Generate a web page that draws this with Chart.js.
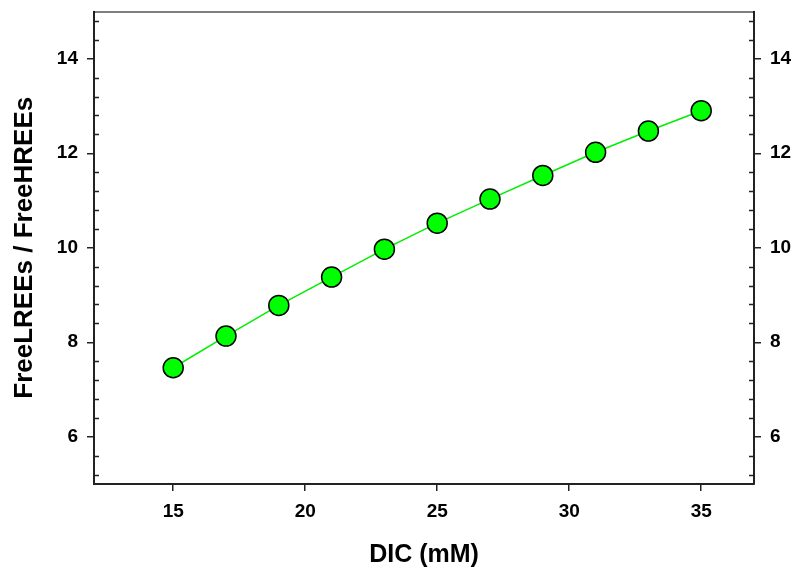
<!DOCTYPE html>
<html>
<head>
<meta charset="utf-8">
<script src="https://cdn.jsdelivr.net/npm/chart.js@4"></script>
<style>
  html, body { margin: 0; padding: 0; background: #fff; }
  #wrap { width: 803px; height: 570px; }
</style>
</head>
<body>
<div id="wrap"><canvas id="ratioChart"></canvas></div>
<script>
// data
const dic = [15, 17, 19, 21, 23, 25, 27, 29, 31, 33, 35];
const ratio = [7.46, 8.13, 8.78, 9.38, 9.97, 10.52, 11.03, 11.53, 12.02, 12.47, 12.90];
const xTicks = [15, 20, 25, 30, 35];
const yTicks = [6, 8, 10, 12, 14];

const FONT = 'Arial, "Liberation Sans", sans-serif';
const AXIS = '#222';

// top frame line + small inward minor ticks on both y axes
const framePlugin = {
    id: 'frame',
    afterDraw(chart) {
        const ctx = chart.ctx;
        const a = chart.chartArea;
        ctx.save();
        ctx.strokeStyle = '#000';
        ctx.lineWidth = 1;
        ctx.beginPath();
        ctx.moveTo(a.left, a.top + 0.5);
        ctx.lineTo(a.right, a.top + 0.5);
        ctx.stroke();

        ctx.strokeStyle = AXIS;
        ctx.lineWidth = 1.5;
        const ys = chart.scales.y;
        for (let k = -2; k <= 22; k++) {
            if (k % 5 === 0) continue;
            const v = 6 + 0.4 * k;
            const py = Math.round(ys.getPixelForValue(v)) + 0.5;
            ctx.beginPath();
            ctx.moveTo(a.left, py);
            ctx.lineTo(a.left + 5, py);
            ctx.moveTo(a.right, py);
            ctx.lineTo(a.right - 5, py);
            ctx.stroke();
        }
        ctx.restore();
    }
};

function yAxis(pos, w) {
    return {
        type: 'linear',
        position: pos,
        min: 5,
        max: 15,
        afterBuildTicks: s => { s.ticks = yTicks.map(v => ({ value: v })); },
        afterFit: s => { s.width = w; s.paddingTop = 0; s.paddingBottom = 0; },
        border: { display: true, color: AXIS, width: 2 },
        grid: { display: true, drawOnChartArea: false, drawTicks: true, tickLength: 7, color: AXIS, lineWidth: 1.5 },
        ticks: { color: '#000', padding: 9, font: { family: FONT, size: 19, weight: 'bold' } },
        title: pos === 'left' ? {
            display: true,
            text: 'FreeLREEs / FreeHREEs',
            color: '#000',
            padding: { top: 9, bottom: 0 },
            font: { family: FONT, size: 26, weight: 'bold' }
        } : { display: false }
    };
}

new Chart(document.getElementById('ratioChart'), {
    type: 'scatter',
    data: {
        datasets: [{
            data: dic.map((x, i) => ({ x: x, y: ratio[i] })),
            showLine: true,
            borderColor: '#00ee00',
            borderWidth: 1.5,
            pointRadius: 10,
            pointHoverRadius: 10,
            pointBackgroundColor: '#00ff00',
            pointBorderColor: '#000',
            pointBorderWidth: 1.5
        }]
    },
    options: {
        responsive: true,
        maintainAspectRatio: false,
        animation: false,
        layout: { padding: { top: 8, left: 0, right: 0, bottom: 0 } },
        plugins: { legend: { display: false }, tooltip: { enabled: false } },
        scales: {
            x: {
                type: 'linear',
                min: 12,
                max: 37,
                afterBuildTicks: s => { s.ticks = xTicks.map(v => ({ value: v })); },
                afterFit: s => { s.height = 86; s.paddingLeft = 0; s.paddingRight = 0; },
                border: { display: true, color: AXIS, width: 2 },
                grid: { display: true, drawOnChartArea: false, drawTicks: true, tickLength: 7, color: AXIS, lineWidth: 1.5 },
                ticks: { color: '#000', padding: 9, maxRotation: 0, font: { family: FONT, size: 19, weight: 'bold' } },
                title: {
                    display: true,
                    text: 'DIC (mM)',
                    color: '#000',
                    padding: { top: 0, bottom: 0 },
                    font: { family: FONT, size: 25, weight: 'bold' }
                }
            },
            y: yAxis('left', 94),
            y2: yAxis('right', 49)
        }
    },
    plugins: [framePlugin]
});
</script>
</body>
</html>
